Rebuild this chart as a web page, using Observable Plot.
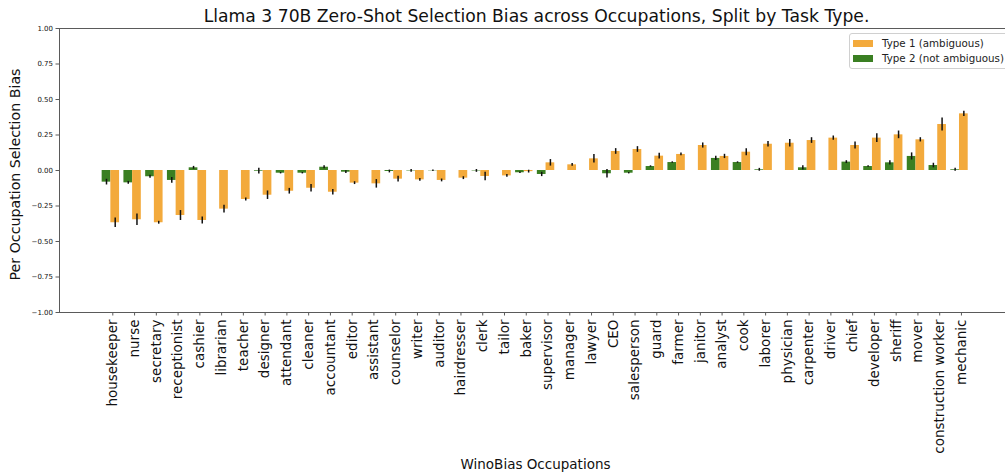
<!DOCTYPE html>
<html>
<head>
<meta charset="utf-8">
<script src="https://cdn.jsdelivr.net/npm/d3@7"></script>
<script src="https://cdn.jsdelivr.net/npm/@observablehq/plot@0.6"></script>
<style>
  html, body { margin: 0; padding: 0; background: #fff; overflow: hidden; }
  #wrap { position: relative; width: 1005px; height: 473px; font-family: "DejaVu Sans", sans-serif; }
  #legend { position: absolute; left: 849px; top: 33px; width: 160px; height: 36px; box-sizing: border-box;
            border: 1px solid #d0d0d0; border-radius: 3px; background: rgba(255,255,255,0.85); font-size: 10.3px; color: #222; }
  .row { position: absolute; left: 3px; height: 14px; display: flex; align-items: center; white-space: nowrap; }
  .sw { width: 20px; height: 7px; margin-right: 9px; }
</style>
</head>
<body>
<div id="wrap"></div>
<script>
const occupations = ["housekeeper","nurse","secretary","receptionist","cashier","librarian","teacher","designer","attendant","cleaner","accountant","editor","assistant","counselor","writer","auditor","hairdresser","clerk","tailor","baker","supervisor","manager","lawyer","CEO","salesperson","guard","farmer","janitor","analyst","cook","laborer","physician","carpenter","driver","chief","developer","sheriff","mover","construction worker","mechanic"];
const type1 = [-0.368,-0.347,-0.368,-0.317,-0.352,-0.272,-0.204,-0.174,-0.146,-0.125,-0.153,-0.089,-0.094,-0.061,-0.066,-0.070,-0.054,-0.042,-0.038,-0.008,0.054,0.040,0.082,0.134,0.148,0.101,0.113,0.176,0.099,0.129,0.185,0.192,0.211,0.228,0.176,0.228,0.251,0.216,0.324,0.399];
const type1Err = [0.034,0.040,0.010,0.035,0.025,0.027,0.010,0.030,0.020,0.027,0.020,0.010,0.030,0.020,0.010,0.010,0.010,0.030,0.010,0.010,0.023,0.010,0.030,0.020,0.020,0.020,0.010,0.018,0.015,0.025,0.020,0.027,0.020,0.015,0.025,0.030,0.027,0.015,0.045,0.019];
const type2 = [-0.082,-0.087,-0.044,-0.070,0.019,0,0,-0.005,-0.019,-0.019,0.023,-0.012,0,-0.007,-0.003,-0.002,0,-0.003,0,-0.016,-0.028,0,0,-0.023,-0.019,0.028,0.056,0,0.085,0.056,0.005,0,0.019,0,0.059,0.028,0.054,0.099,0.035,0.005];
const type2Err = [0.020,0.010,0.010,0.020,0.010,0,0,0.020,0.005,0.005,0.010,0.010,0,0.010,0.010,0.005,0,0.010,0,0.005,0.015,0,0,0.030,0.005,0.005,0.005,0,0.015,0.005,0.010,0,0.015,0,0.010,0.005,0.015,0.025,0.016,0.010];
const yTicks = [-1, -0.75, -0.5, -0.25, 0, 0.25, 0.5, 0.75, 1];
const seriesNames = ["Type 1 (ambiguous)", "Type 2 (not ambiguous)"];
const title = "Llama 3 70B Zero-Shot Selection Bias across Occupations, Split by Task Type.";

const orange = "#f3aa3c";
const green = "#3a7f22";
const spine = "#5a5a5a";

const rows = occupations.map((name, i) => ({name, i, t1: type1[i], e1: type1Err[i], t2: type2[i], e2: type2Err[i]}));

const chart = Plot.plot({
  width: 1005, height: 473,
  marginTop: 28, marginBottom: 161, marginLeft: 59, marginRight: 0,
  style: {fontFamily: "DejaVu Sans, sans-serif", background: "white", color: "#111", overflow: "hidden"},
  x: {type: "linear", domain: [-2.45, 41.3], range: [59, 1011]},
  y: {domain: [-1, 1], range: [312, 28]},
  marks: [
    Plot.rect(rows, {x1: d => d.i - 0.49, x2: d => d.i - 0.09, y1: 0, y2: "t2", fill: green}),
    Plot.rect(rows, {x1: d => d.i - 0.09, x2: d => d.i + 0.31, y1: 0, y2: "t1", fill: orange}),
    Plot.ruleX(rows.filter(d => d.e2 > 0), {x: d => d.i - 0.29, y1: d => d.t2 - d.e2, y2: d => d.t2 + d.e2, stroke: "#111", strokeWidth: 1.5}),
    Plot.ruleX(rows, {x: d => d.i + 0.11, y1: d => d.t1 - d.e1, y2: d => d.t1 + d.e1, stroke: "#111", strokeWidth: 1.5}),
    Plot.ruleX([-2.45], {stroke: spine, strokeWidth: 1}),
    Plot.ruleY([-1, 1], {stroke: spine, strokeWidth: 1}),
    Plot.axisX({ticks: d3.range(occupations.length), tickFormat: i => occupations[i], tickRotate: -90,
      fontSize: 13.5, tickSize: 3.5, tickPadding: 3.5, label: null, stroke: spine}),
    Plot.axisY({ticks: yTicks, tickFormat: d => d.toFixed(2).replace("-", "\u2212"),
      fontSize: 7, tickSize: 3.5, tickPadding: 3, label: null, stroke: spine}),
    Plot.text(["Per Occupation Selection Bias"], {frameAnchor: "left", dx: -44, dy: 4, rotate: -90, fontSize: 14.2, textAnchor: "middle", lineAnchor: "middle", fill: "#111"}),
    Plot.text(["WinoBias Occupations"], {frameAnchor: "bottom", dx: 3, dy: 152, fontSize: 13.5, textAnchor: "middle", lineAnchor: "middle", fill: "#111"}),
    Plot.text([title], {frameAnchor: "top", dx: 4, dy: -12, fontSize: 17.2, textAnchor: "middle", lineAnchor: "middle", fill: "#111"})
  ]
});

const wrap = document.getElementById("wrap");
wrap.appendChild(chart);
const legend = document.createElement("div");
legend.id = "legend";
[orange, green].forEach((c, k) => {
  const r = document.createElement("div");
  r.className = "row";
  r.style.top = (2 + k * 15) + "px";
  const sw = document.createElement("span");
  sw.className = "sw";
  sw.style.background = c;
  const t = document.createElement("span");
  t.textContent = seriesNames[k];
  r.appendChild(sw); r.appendChild(t);
  legend.appendChild(r);
});
wrap.appendChild(legend);
</script>
</body>
</html>
